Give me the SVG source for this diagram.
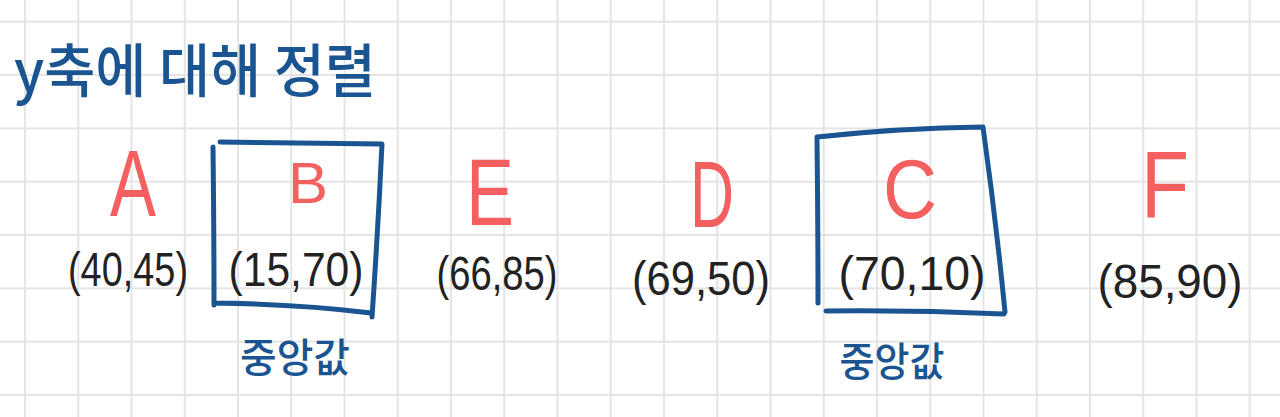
<svg xmlns="http://www.w3.org/2000/svg" width="1280" height="417" viewBox="0 0 1280 417">
<defs>
<pattern id="grid" x="24" y="20.7" width="53.25" height="53.33" patternUnits="userSpaceOnUse">
<rect x="0" y="0" width="2" height="53.33" fill="#e4e4e4"/>
<rect x="0" y="0" width="53.25" height="2" fill="#e4e4e4"/>
</pattern>
<style>
.title{font-family:"Noto Sans CJK KR","Noto Sans",sans-serif;font-size:58px;font-weight:500;fill:#1b5591}
.letter{font-family:"Liberation Sans","Noto Sans",sans-serif;font-size:94px;fill:#f45f5f;text-anchor:middle}
.coord{font-family:"Liberation Sans","Noto Sans",sans-serif;font-size:48px;fill:#222222;text-anchor:middle}
.median{font-family:"Noto Sans CJK KR",sans-serif;font-size:40px;font-weight:500;fill:#1b5591;text-anchor:middle}
.box{fill:none;stroke:#1b5591;stroke-width:5;stroke-linecap:round;stroke-linejoin:round}
</style>
</defs>
<rect width="1280" height="417" fill="#ffffff"/>
<rect width="1280" height="417" fill="url(#grid)"/>

<g id="title">
<text class="title" x="14" y="92" textLength="362" lengthAdjust="spacingAndGlyphs">y축에 대해 정렬</text>
</g>

<g id="node-A">
<text class="letter" x="133" y="216" textLength="46" lengthAdjust="spacingAndGlyphs">A</text>
<text class="coord" x="128" y="286" textLength="120" lengthAdjust="spacingAndGlyphs">(40,45)</text>
</g>

<g id="node-B">
<text class="letter" x="308" y="203" style="font-size:58px" textLength="40" lengthAdjust="spacingAndGlyphs">B</text>
<text class="coord" x="296" y="286" textLength="135" lengthAdjust="spacingAndGlyphs">(15,70)</text>
</g>

<g id="node-E">
<text class="letter" x="490" y="225" textLength="48" lengthAdjust="spacingAndGlyphs">E</text>
<text class="coord" x="497" y="290" textLength="121" lengthAdjust="spacingAndGlyphs">(66,85)</text>
</g>

<g id="node-D">
<text class="letter" x="712" y="227" textLength="44" lengthAdjust="spacingAndGlyphs">D</text>
<text class="coord" x="701" y="295" textLength="138" lengthAdjust="spacingAndGlyphs">(69,50)</text>
</g>

<g id="node-C">
<text class="letter" x="910" y="218" style="font-size:84px" textLength="54" lengthAdjust="spacingAndGlyphs">C</text>
<text class="coord" x="912" y="290" textLength="147" lengthAdjust="spacingAndGlyphs">(70,10)</text>
</g>

<g id="node-F">
<text class="letter" x="1165" y="217" textLength="48" lengthAdjust="spacingAndGlyphs">F</text>
<text class="coord" x="1170" y="298" textLength="145" lengthAdjust="spacingAndGlyphs">(85,90)</text>
</g>

<g id="connectors">
<path class="box" d="M220 142 Q300 143 382 144 Q378 230 372 317 M213 147 Q214 230 214 305 M214 303 Q300 304 371 313"/>
<path class="box" d="M817 137 Q900 128 983 127 Q996 220 1005 312 M817 137 Q818 220 818 303 M826 311 Q915 310 1004 314"/>
</g>

<g id="median-B">
<text class="median" x="295" y="372" textLength="110" lengthAdjust="spacingAndGlyphs">중앙값</text>
</g>
<g id="median-C">
<text class="median" x="892" y="376" textLength="105" lengthAdjust="spacingAndGlyphs">중앙값</text>
</g>
</svg>
